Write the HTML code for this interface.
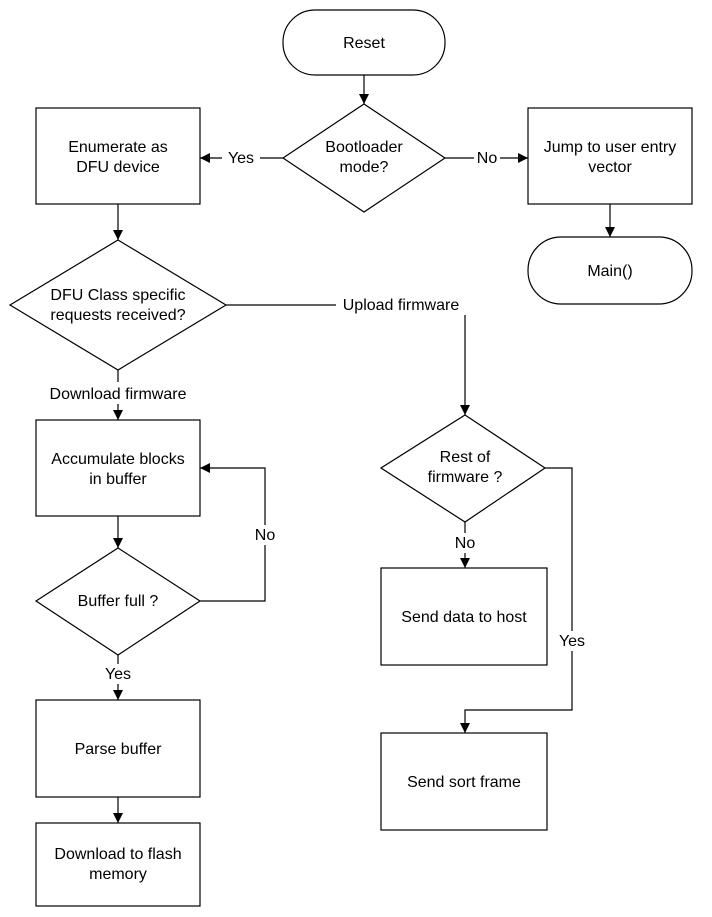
<!DOCTYPE html>
<html><head><style>body{margin:0;background:#fff}svg{display:block}text{font-family:"Liberation Sans",Arial,sans-serif;font-size:16px;fill:#000}</style></head>
<body>
<svg width="712" height="917" viewBox="0 0 712 917" xmlns="http://www.w3.org/2000/svg">
<defs><marker id="a" viewBox="0 0 10 10" refX="10" refY="5" markerWidth="10" markerHeight="10" markerUnits="userSpaceOnUse" orient="auto"><path d="M0,0L10,5L0,10z" fill="#000"/></marker></defs>
<g fill="none" stroke="#000" stroke-width="1.2">
<rect x="283" y="10" width="162" height="65" rx="32"/>
<rect x="528" y="237" width="164" height="67" rx="33"/>
<path d="M364,104L445,158L364,212L283,158Z"/>
<path d="M118,240L226,305L118,370L10,305Z"/>
<path d="M465,415L545,468L465,522L381,468Z"/>
<path d="M118,548L200,601L118,655L36,601Z"/>
<rect x="36" y="108" width="164" height="96"/>
<rect x="528" y="108" width="164" height="96"/>
<rect x="36" y="420" width="164" height="96"/>
<rect x="381" y="568" width="166" height="97"/>
<rect x="381" y="733" width="166" height="97"/>
<rect x="36" y="700" width="164" height="97"/>
<rect x="36" y="823" width="164" height="83"/>
<path d="M364,75V104" marker-end="url(#a)"/>
<path d="M283,158H260M222,158H200" marker-end="url(#a)"/>
<path d="M445,158H474M500,158H528" marker-end="url(#a)"/>
<path d="M610,204V237" marker-end="url(#a)"/>
<path d="M118,204V240" marker-end="url(#a)"/>
<path d="M226,305H336"/>
<path d="M465,315V415" marker-end="url(#a)"/>
<path d="M118,370V382M118,404V420" marker-end="url(#a)"/>
<path d="M118,516V548" marker-end="url(#a)"/>
<path d="M200,601H265V545M265,525V468H200" marker-end="url(#a)"/>
<path d="M118,655V664M118,684V700" marker-end="url(#a)"/>
<path d="M118,797V823" marker-end="url(#a)"/>
<path d="M465,522V533M465,553V568" marker-end="url(#a)"/>
<path d="M545,468H572V631M572,651V710H465V733" marker-end="url(#a)"/>
</g>
<g text-anchor="middle">
<text x="364" y="48">Reset</text>
<text x="364" y="152">Bootloader</text><text x="364" y="172">mode?</text>
<text x="241" y="163">Yes</text>
<text x="487" y="163">No</text>
<text x="118" y="152">Enumerate as</text><text x="118" y="172">DFU device</text>
<text x="610" y="152">Jump to user entry</text><text x="610" y="172">vector</text>
<text x="610" y="276">Main()</text>
<text x="118" y="300">DFU Class specific</text><text x="118" y="320">requests received?</text>
<text x="401" y="310">Upload firmware</text>
<text x="118" y="399">Download firmware</text>
<text x="118" y="464">Accumulate blocks</text><text x="118" y="484">in buffer</text>
<text x="465" y="462">Rest of</text><text x="465" y="482">firmware ?</text>
<text x="265" y="540">No</text>
<text x="465" y="548">No</text>
<text x="118" y="606">Buffer full ?</text>
<text x="464" y="622">Send data to host</text>
<text x="572" y="646">Yes</text>
<text x="118" y="679">Yes</text>
<text x="118" y="754">Parse buffer</text>
<text x="464" y="787">Send sort frame</text>
<text x="118" y="859">Download to flash</text><text x="118" y="879">memory</text>
</g>
</svg>
</body></html>
